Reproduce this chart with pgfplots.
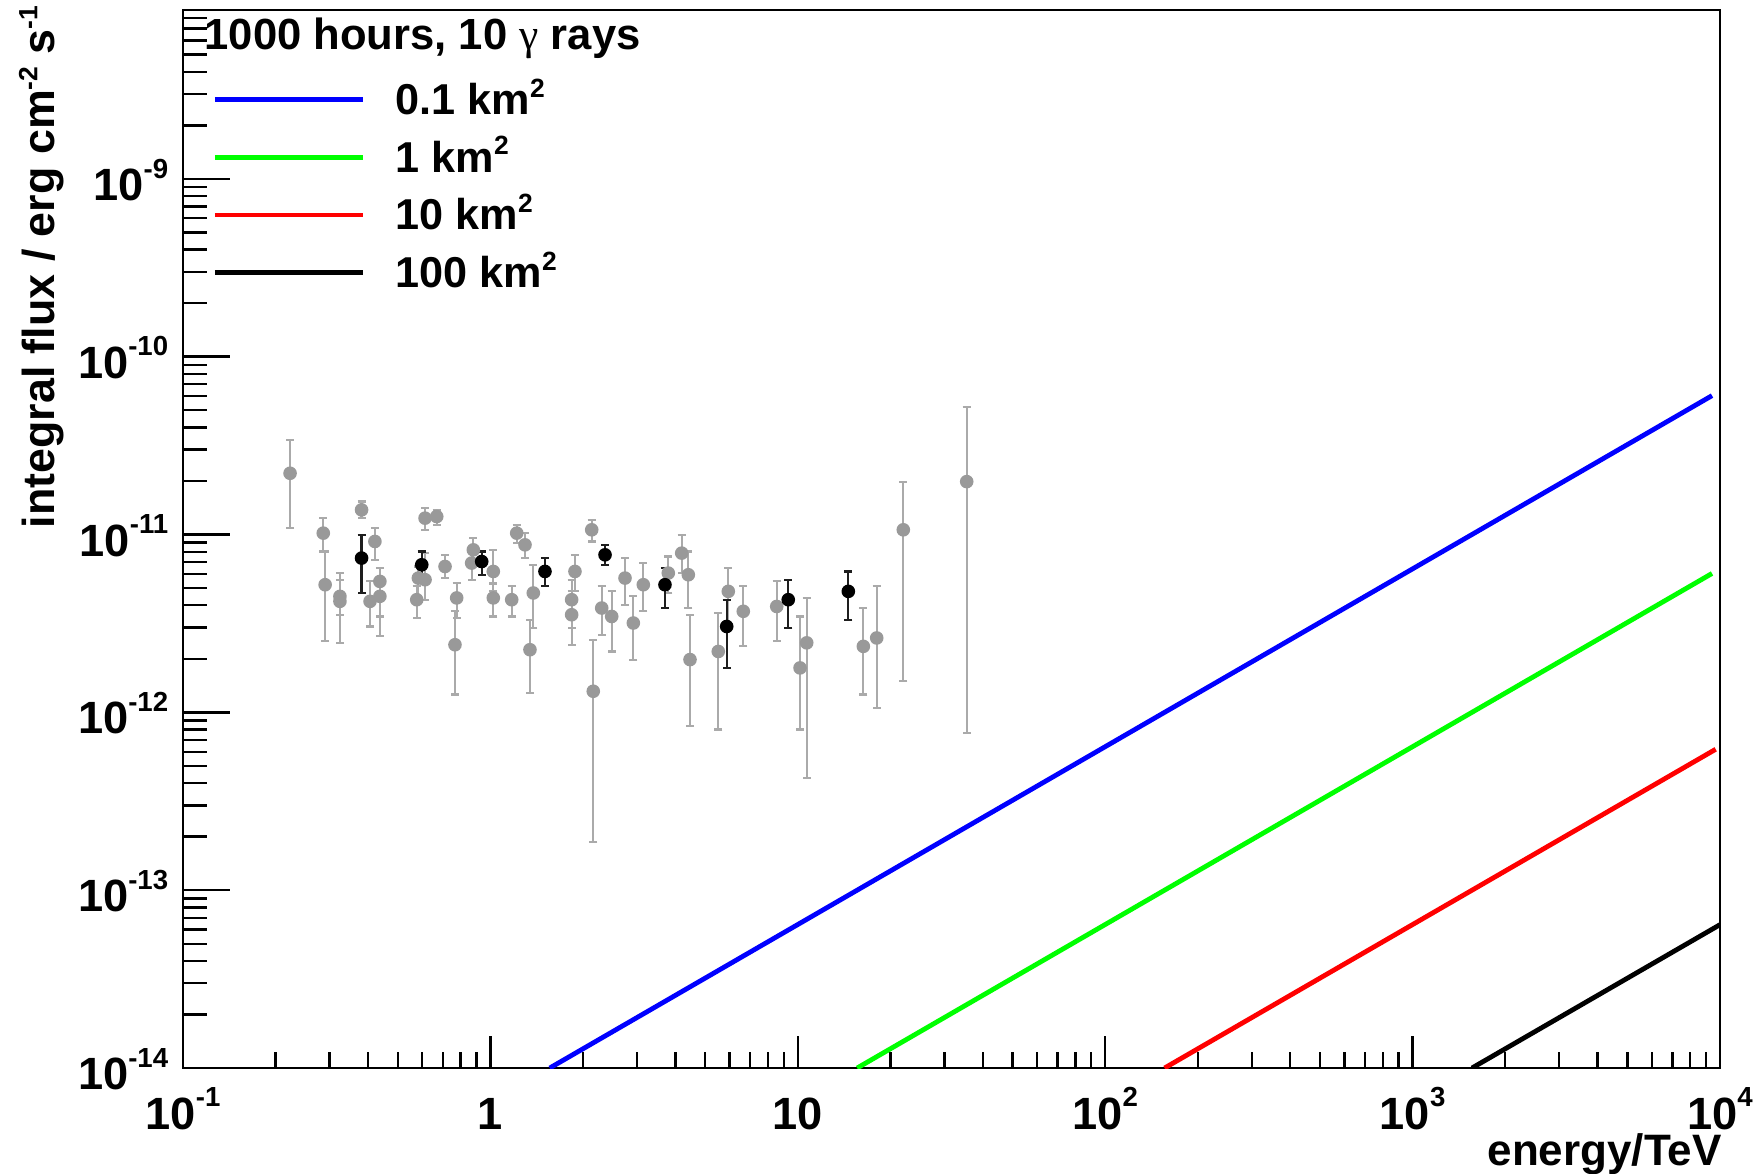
\documentclass[border=0pt]{standalone}
\usepackage{fontspec}
\setmainfont{Liberation Sans}
\newfontfamily\symf{Liberation Serif}
\usepackage{pgfplots}
\usepackage{pgfplotstable}
\pgfplotsset{compat=1.18}
\newcommand{\tl}[1]{10\raisebox{5.6pt}{\fontsize{6.9pt}{6.9pt}\selectfont #1}}
\newcommand{\su}[1]{\raisebox{4.3pt}{\fontsize{6.6pt}{6.6pt}\selectfont #1}}
\definecolor{gmark}{RGB}{153,153,153}
\definecolor{gerr}{RGB}{170,170,170}
\definecolor{rgreen}{RGB}{0,255,0}
\definecolor{rblue}{RGB}{0,0,255}
\definecolor{rred}{RGB}{255,0,0}
\definecolor{berr}{RGB}{30,30,30}

\pgfplotstableread{
x y lo hi
0.223 2.21e-11 1.087e-11 3.40e-11
0.286 1.018e-11 8.03e-12 1.236e-11
0.290 5.22e-12 2.51e-12 8.03e-12
0.324 4.49e-12 3.54e-12 6.07e-12
0.324 4.21e-12 2.46e-12 5.57e-12
0.381 1.376e-11 1.236e-11 1.532e-11
0.421 9.14e-12 7.21e-12 1.087e-11
0.406 4.21e-12 3.04e-12 5.45e-12
0.437 5.45e-12 3.46e-12 6.48e-12
0.437 4.49e-12 2.68e-12 5.45e-12
0.576 4.30e-12 3.39e-12 5.11e-12
0.583 5.69e-12 4.30e-12 6.61e-12
0.613 1.236e-11 1.063e-11 1.406e-11
0.613 5.57e-12 4.30e-12 7.86e-12
0.669 1.262e-11 1.134e-11 1.376e-11
0.712 6.61e-12 5.69e-12 7.69e-12
0.777 4.40e-12 3.39e-12 5.33e-12
0.767 2.40e-12 1.259e-12 3.70e-12
0.880 8.20e-12 6.91e-12 9.55e-12
0.869 6.91e-12 5.57e-12 8.00e-12
1.022 6.20e-12 4.80e-12 8.20e-12
1.022 4.40e-12 3.46e-12 5.30e-12
1.173 4.30e-12 3.46e-12 5.11e-12
1.218 1.018e-11 8.95e-12 1.134e-11
1.296 8.75e-12 7.37e-12 1.018e-11
1.379 4.69e-12 2.98e-12 6.76e-12
1.345 2.25e-12 1.287e-12 3.32e-12
1.884 6.20e-12 4.79e-12 7.69e-12
1.838 4.30e-12 2.98e-12 5.57e-12
1.838 3.54e-12 2.40e-12 4.79e-12
2.136 1.063e-11 9.14e-12 1.209e-11
2.161 1.314e-12 1.875e-13 2.56e-12
2.302 3.86e-12 2.73e-12 5.11e-12
2.481 3.46e-12 2.20e-12 4.79e-12
2.741 5.69e-12 4.03e-12 7.37e-12
2.917 3.18e-12 1.98e-12 4.49e-12
3.144 5.22e-12 3.70e-12 6.91e-12
3.791 6.07e-12 4.69e-12 7.52e-12
4.192 7.86e-12 6.07e-12 9.96e-12
4.404 5.94e-12 3.86e-12 8.03e-12
4.460 1.98e-12 8.36e-13 3.54e-12
5.512 2.20e-12 8.00e-13 3.62e-12
5.942 4.79e-12 2.98e-12 6.48e-12
6.648 3.70e-12 2.35e-12 5.11e-12
8.54 3.94e-12 2.51e-12 5.45e-12
10.17 1.778e-12 8.00e-13 3.46e-12
10.69 2.46e-12 4.29e-13 4.40e-12
16.34 2.35e-12 1.259e-12 3.86e-12
18.06 2.62e-12 1.060e-12 5.11e-12
22.04 1.063e-11 1.495e-12 1.984e-11
35.44 1.984e-11 7.67e-13 5.21e-11
}\grey

\pgfplotstableread{
x y lo hi
0.381 7.37e-12 4.69e-12 9.96e-12
0.598 6.76e-12 5.45e-12 8.03e-12
0.937 7.05e-12 5.94e-12 8.03e-12
1.505 6.20e-12 5.11e-12 7.37e-12
2.360 7.69e-12 6.76e-12 8.75e-12
3.698 5.22e-12 3.86e-12 6.48e-12
5.871 3.04e-12 1.778e-12 4.30e-12
9.31 4.30e-12 2.98e-12 5.57e-12
14.60 4.79e-12 3.32e-12 6.20e-12
}\black

\begin{document}
\begin{tikzpicture}
\begin{axis}[
  scale only axis, width=384.25pt, height=264.5pt,
  xmode=log, ymode=log,
  xmin=0.1, xmax=1e4, ymin=1e-14, ymax=8.9e-9,
  axis line style={line width=0.6pt, color=black},
  tick align=inside, tick pos=left,
  xtick={0.1,1,10,100,1000,10000},
  xticklabels={\tl{-1},1,10,\tl{2},\tl{3},\tl{4}},
  ytick={1e-14,1e-13,1e-12,1e-11,1e-10,1e-9},
  yticklabels={\tl{-14},\tl{-13},\tl{-12},\tl{-11},\tl{-10},\tl{-9}},
  minor xtick={0.2,0.3,0.4,0.5,0.6,0.7,0.8,0.9,2,3,4,5,6,7,8,9,20,30,40,50,60,70,80,90,200,300,400,500,600,700,800,900,2000,3000,4000,5000,6000,7000,8000,9000},
  minor ytick={2e-14,3e-14,4e-14,5e-14,6e-14,7e-14,8e-14,9e-14,2e-13,3e-13,4e-13,5e-13,6e-13,7e-13,8e-13,9e-13,2e-12,3e-12,4e-12,5e-12,6e-12,7e-12,8e-12,9e-12,2e-11,3e-11,4e-11,5e-11,6e-11,7e-11,8e-11,9e-11,2e-10,3e-10,4e-10,5e-10,6e-10,7e-10,8e-10,9e-10,2e-9,3e-9,4e-9,5e-9,6e-9,7e-9,8e-9},
  xtick style={/pgfplots/major tick length=8pt,/pgfplots/minor tick length=4pt,line width=0.6pt,color=black},
  ytick style={/pgfplots/major tick length=11.75pt,/pgfplots/minor tick length=6pt,line width=0.6pt,color=black},
  ticklabel style={font=\fontsize{11.3pt}{11.3pt}\selectfont\bfseries, inner sep=0pt},
  xticklabel style={anchor=base, yshift=-15.25pt},
  yticklabel style={anchor=base east, xshift=-3.5pt, yshift=-5.4pt},
  xlabel={energy/TeV},
  ylabel={integral flux / erg cm\su{-2} s\su{-1}},
  label style={font=\fontsize{11.2pt}{11.2pt}\selectfont\bfseries, inner sep=0pt},
  xlabel style={at={(axis description cs:1.0015,-0.0920)}, anchor=base east, text height=6.5pt, font=\fontsize{11pt}{11pt}\selectfont\bfseries},
  ylabel style={at={(axis description cs:-0.0835,1.0047)}, anchor=base east},
  legend style={at={(axis description cs:0.0186,0.9357)}, anchor=north west, draw=none, fill=none,
     inner sep=0pt, row sep=4.0pt, column sep=7.6pt,
     font=\fontsize{10.8pt}{10.8pt}\selectfont\bfseries, nodes={inner sep=0pt}},
  legend cell align=left,
  legend image code/.code={\draw[#1] (0pt,0pt) -- (37pt,0pt);},
]
\addplot[only marks, mark=*, mark size=1.5pt, color=gmark, forget plot,
  error bars/.cd, y dir=both, y explicit,
  error bar style={line width=0.55pt, color=gerr},
  error mark options={rotate=90, mark size=1pt, line width=0.55pt, color=gerr}]
  table[x=x, y=y, y error plus expr={\thisrow{hi}-\thisrow{y}}, y error minus expr={\thisrow{y}-\thisrow{lo}}] {\grey};
\addplot[only marks, mark=*, mark size=1.5pt, color=black, forget plot,
  error bars/.cd, y dir=both, y explicit,
  error bar style={line width=0.55pt, color=berr},
  error mark options={rotate=90, mark size=1pt, line width=0.55pt, color=berr}]
  table[x=x, y=y, y error plus expr={\thisrow{hi}-\thisrow{y}}, y error minus expr={\thisrow{y}-\thisrow{lo}}] {\black};

\addplot[rblue, line width=1.2pt] coordinates {(1.56,1e-14) (9420,6.04e-11)};
\addlegendentry{0.1 km\su{2}}
\addplot[rgreen, line width=1.2pt] coordinates {(15.6,1e-14) (9420,6.04e-12)};
\addlegendentry{1 km\su{2}}
\addplot[rred, line width=1.2pt] coordinates {(156,1e-14) (9680,6.2e-13)};
\addlegendentry{10 km\su{2}}
\addplot[black, line width=1.2pt] coordinates {(1560,1e-14) (10000,6.4e-14)};
\addlegendentry{100 km\su{2}}

\node[anchor=base west, inner sep=0pt, font=\fontsize{10.9pt}{10.9pt}\selectfont\bfseries]
  at (axis description cs:0.0135,0.9626) {1000 hours, 10 {\symf\mdseries γ} rays};
\end{axis}
\pgfresetboundingbox
\path[use as bounding box] ([shift={(-45.75pt,-26.5pt)}]current axis.south west) rectangle ([shift={(11pt,2.5pt)}]current axis.north east);
\end{tikzpicture}
\end{document}
